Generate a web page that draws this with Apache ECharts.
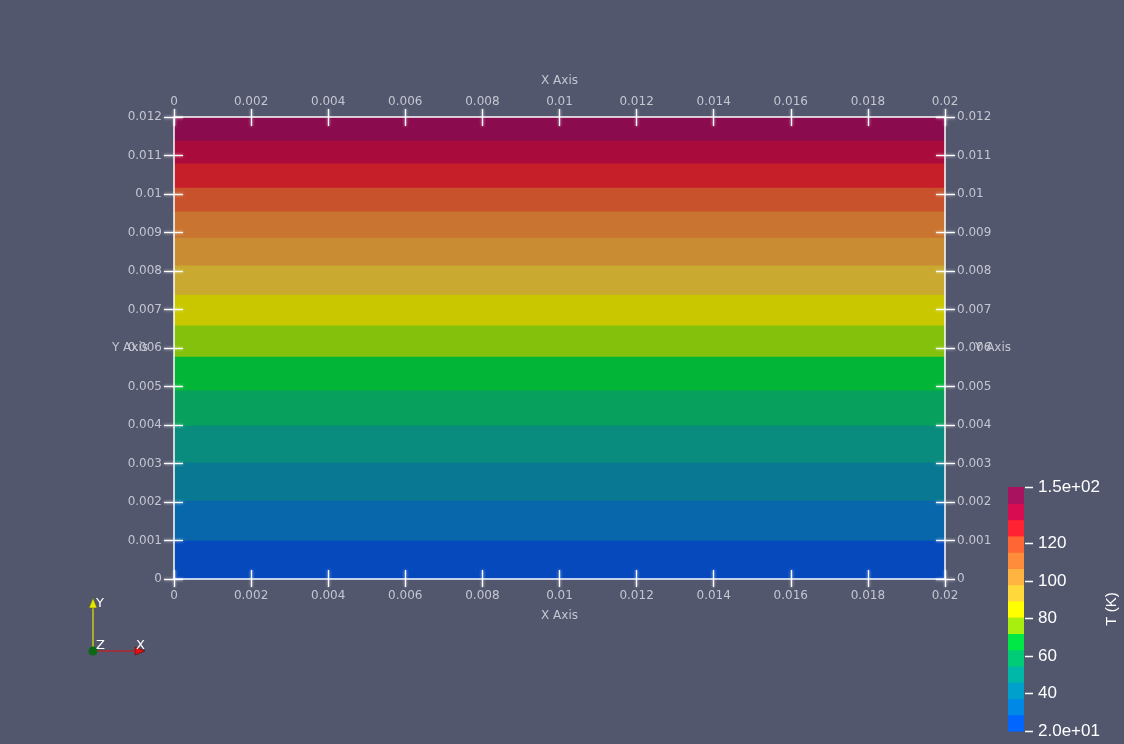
<!DOCTYPE html>
<html>
<head>
<meta charset="utf-8">
<script src="https://cdn.jsdelivr.net/npm/echarts@6/dist/echarts.min.js"></script>
<style>
html,body{margin:0;padding:0;background:#52576e;}
#chart{width:1124px;height:744px;}
</style>
</head>
<body>
<div id="chart"></div>
<script>
// ---- data ----
const xRange = [0, 0.02];
const yRange = [0, 0.012];
// isotherm band boundaries along Y (bottom to top)
const bandEdges = [0, 0.00101, 0.00205, 0.00304, 0.00400, 0.00491, 0.00579, 0.00660, 0.00740, 0.00816, 0.00888, 0.00956, 0.01018, 0.01081, 0.01140, 0.012];
// shaded band colours (bottom to top)
const bandColors = ['#0649bd', '#0866ab', '#087893', '#098b7e', '#07a05c', '#03b537', '#84c10c', '#c9c800', '#c9a92f', '#c98c33', '#c97430', '#c8522b', '#c71f2a', '#a90b3c', '#8a0b4e'];
// colour legend (T in K)
const tempMin = 20;
const tempMax = 150;
const legendColors = ['#0066ff', '#0088e6', '#00a0cc', '#00b8a8', '#00cc77', '#00e845', '#a8ef10', '#ffff00', '#ffd83c', '#ffb340', '#ff8c3a', '#ff6633', '#ff2232', '#d80c50', '#a8125e'];
const legendTicks = [20, 40, 60, 80, 100, 120, 150];
const legendLabels = {20: '2.0e+01', 150: '1.5e+02'};

// ---- build ----
const bandData = bandColors.map((c, i) => [bandEdges[i], bandEdges[i + 1], i]);
const step = (tempMax - tempMin) / legendColors.length;
const legendData = legendColors.map((c, i) => [tempMin + i * step, tempMin + (i + 1) * step, i]);

const labelColor = '#c4c6d0';
const tickStyle = {color: '#ffffff', width: 1.3, shadowBlur: 3, shadowColor: 'rgba(255,255,255,0.8)'};
const fmt = v => {
  if (Math.abs(v) < 1e-12) return '0';
  return String(parseFloat(v.toFixed(4)));
};

function xAx(grid, pos, inside, withLabel, name) {
  return {
    type: 'value', gridIndex: grid, position: pos, min: xRange[0], max: xRange[1], interval: 0.002, z: 10,
    axisLine: {show: withLabel, onZero: false, lineStyle: {color: '#ffffff', width: 1.5}},
    axisTick: {show: true, inside: inside, length: inside ? 9 : 8, lineStyle: tickStyle},
    axisLabel: {show: withLabel, color: labelColor, fontSize: 12, fontFamily: 'DejaVu Sans', margin: pos === 'top' ? 9 : 11, formatter: fmt},
    splitLine: {show: false},
    name: name || '', nameLocation: 'middle', nameGap: pos === 'top' ? 30 : 31, nameMoveOverlap: false,
    nameTextStyle: {color: labelColor, fontSize: 12, fontFamily: 'DejaVu Sans'}
  };
}
function yAx(grid, pos, inside, withLabel, name) {
  return {
    type: 'value', gridIndex: grid, position: pos, min: yRange[0], max: yRange[1], interval: 0.001, z: 10,
    axisLine: {show: withLabel, onZero: false, lineStyle: {color: '#ffffff', width: 1.5}},
    axisTick: {show: true, inside: inside, length: inside ? 9 : 10, lineStyle: tickStyle},
    axisLabel: {show: withLabel, color: labelColor, fontSize: 12, fontFamily: 'DejaVu Sans', margin: 12, formatter: fmt},
    splitLine: {show: false},
    name: name || '', nameLocation: 'middle', nameRotate: 0, nameGap: pos === 'left' ? 26 : 30, nameMoveOverlap: false,
    nameTextStyle: {color: labelColor, fontSize: 12, fontFamily: 'DejaVu Sans', align: pos === 'left' ? 'right' : 'left'}
  };
}

const plotGrid = {left: 174, right: 179, top: 117, bottom: 165};
const chart = echarts.init(document.getElementById('chart'), null, {renderer: 'canvas'});
chart.setOption({
  backgroundColor: '#52576e',
  animation: false,
  grid: [
    Object.assign({}, plotGrid),
    {left: 1008, width: 16, top: 487, bottom: 13},
    Object.assign({}, plotGrid)
  ],
  xAxis: [
    xAx(0, 'bottom', false, true, 'X Axis'),
    xAx(0, 'top', false, true, 'X Axis'),
    xAx(2, 'bottom', true, false),
    xAx(2, 'top', true, false),
    {type: 'value', gridIndex: 1, min: 0, max: 1, show: false}
  ],
  yAxis: [
    yAx(0, 'left', false, true, 'Y Axis'),
    yAx(0, 'right', false, true, 'Y Axis'),
    yAx(2, 'left', true, false),
    yAx(2, 'right', true, false),
    {
      type: 'value', gridIndex: 1, position: 'right', min: tempMin, max: tempMax, z: 10,
      axisLine: {show: false},
      axisTick: {show: false},
      axisLabel: {show: true, customValues: legendTicks, color: '#ffffff', fontSize: 17, fontFamily: 'Liberation Sans', margin: 14,
        formatter: v => legendLabels[v] || String(v)},
      splitLine: {show: false},
      name: 'T (K)', nameLocation: 'middle', nameGap: 80, nameRotate: 90, nameMoveOverlap: false,
      nameTextStyle: {color: '#ffffff', fontSize: 15, fontFamily: 'Liberation Sans'}
    }
  ],
  series: [
    {
      type: 'custom', xAxisIndex: 0, yAxisIndex: 0, data: bandData, z: 0,
      renderItem: (params, api) => {
        const p0 = api.coord([xRange[0], api.value(1)]);
        const p1 = api.coord([xRange[1], api.value(0)]);
        return {type: 'rect', shape: {x: p0[0], y: p0[1], width: p1[0] - p0[0], height: p1[1] - p0[1] + 0.6},
          style: {fill: bandColors[api.value(2)]}};
      }
    },
    {
      type: 'custom', xAxisIndex: 4, yAxisIndex: 4, data: legendData, z: 0,
      renderItem: (params, api) => {
        const p0 = api.coord([0, api.value(1)]);
        const p1 = api.coord([1, api.value(0)]);
        return {type: 'rect', shape: {x: p0[0], y: p0[1], width: p1[0] - p0[0], height: p1[1] - p0[1] + 0.6},
          style: {fill: legendColors[api.value(2)]}};
      }
    },
    {
      // colour-bar tick marks
      type: 'custom', xAxisIndex: 4, yAxisIndex: 4, data: legendTicks.map(v => [v]), z: 3, clip: false,
      renderItem: (params, api) => {
        const p = api.coord([1, api.value(0)]);
        const y = Math.round(p[1]) + 0.5;
        return {type: 'line', shape: {x1: p[0] + 1, y1: y, x2: p[0] + 9, y2: y},
          style: {stroke: '#ffffff', lineWidth: 1.5}};
      }
    }
  ],
  graphic: [
    {type: 'line', shape: {x1: 93, y1: 650, x2: 93, y2: 606}, style: {stroke: '#e6e600', lineWidth: 1.2}},
    {type: 'polygon', shape: {points: [[93, 598], [89, 608], [97, 608]]}, style: {fill: '#e6e600', stroke: '#5a5a00', lineWidth: 0.5}},
    {type: 'line', shape: {x1: 93, y1: 651, x2: 136, y2: 651}, style: {stroke: '#e01010', lineWidth: 1.2}},
    {type: 'polygon', shape: {points: [[145, 651], [135, 647], [135, 655]]}, style: {fill: '#e61010', stroke: '#500000', lineWidth: 0.5}},
    {type: 'circle', shape: {cx: 93, cy: 651, r: 4.5}, style: {fill: '#0a6a14'}},
    {type: 'text', x: 96, y: 597, style: {text: 'Y', fill: '#ffffff', font: '13px DejaVu Sans'}},
    {type: 'text', x: 96, y: 639, style: {text: 'Z', fill: '#ffffff', font: '13px DejaVu Sans'}},
    {type: 'text', x: 136, y: 639, style: {text: 'X', fill: '#ffffff', font: '13px DejaVu Sans'}}
  ]
});
</script>
</body>
</html>
